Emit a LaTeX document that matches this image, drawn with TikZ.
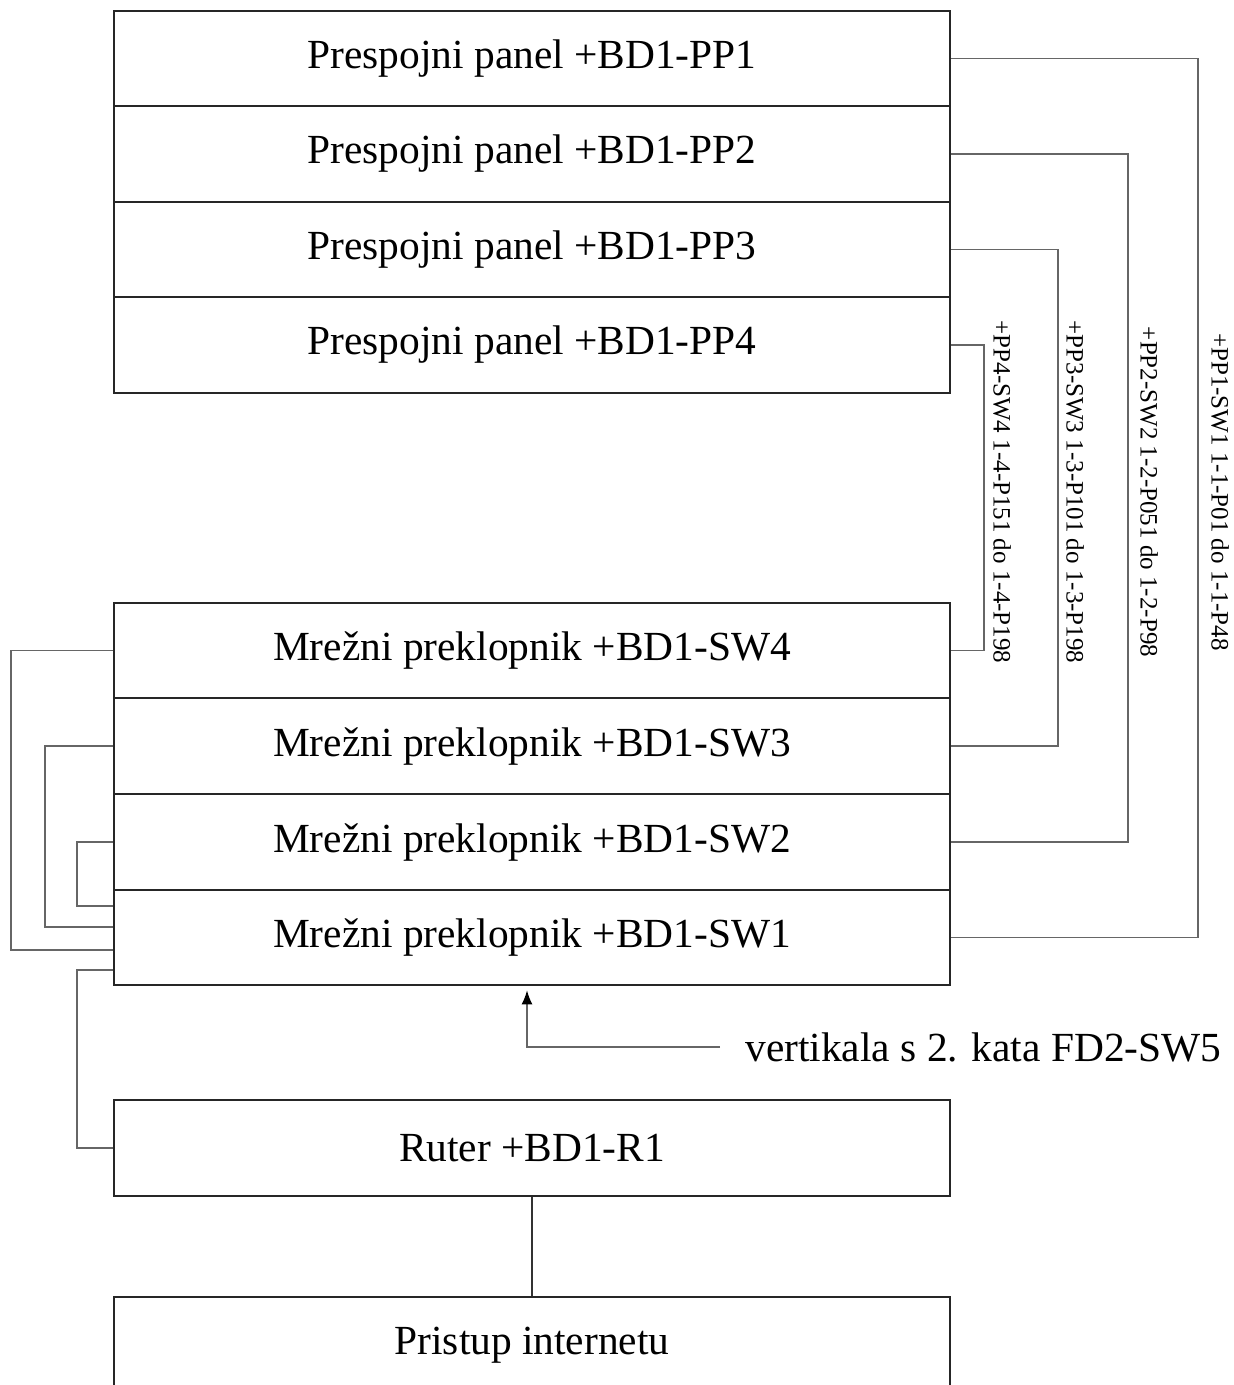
\documentclass[tikz,border=0pt]{standalone}
\usepackage{fontspec}
\setmainfont{Liberation Serif}
\usetikzlibrary{arrows.meta,calc}
\begin{document}
\begin{tikzpicture}[x=0.5pt,y=-0.5pt,
  box/.style={draw=black!85, line width=1pt, minimum width=418pt, minimum height=47.8pt, inner sep=0pt, font=\fontsize{20.7pt}{24pt}\selectfont},
  conn/.style={draw=black!60, line width=0.75pt},
  lbl/.style={rotate=-90, inner sep=0pt, font=\fontsize{12.5pt}{14pt}\selectfont}]
\useasboundingbox (0,0) rectangle (1233,1385);
\clip (0,0) rectangle (1233,1385);
\node[box] (pp1) at (532,58.5) {Prespojni panel +BD1-PP1};
\node[box] (pp2) at (532,154) {Prespojni panel +BD1-PP2};
\node[box] (pp3) at (532,249.5) {Prespojni panel +BD1-PP3};
\node[box] (pp4) at (532,345) {Prespojni panel +BD1-PP4};
\node[box] (sw4) at (532,650.5) {Mrežni preklopnik +BD1-SW4};
\node[box] (sw3) at (532,746) {Mrežni preklopnik +BD1-SW3};
\node[box] (sw2) at (532,842) {Mrežni preklopnik +BD1-SW2};
\node[box] (sw1) at (532,937.5) {Mrežni preklopnik +BD1-SW1};
\node[box] (rt) at (532,1148) {Ruter +BD1-R1};
\node[box] (ri) at (532,1345) {Pristup internetu};
% right connectors
\draw[conn] (pp1.east) -- ++(247,0) |- (sw1.east);
\draw[conn] (pp2.east) -- ++(177,0) |- (sw2.east);
\draw[conn] (pp3.east) -- ++(107,0) |- (sw3.east);
\draw[conn] (pp4.east) -- ++(33,0) |- (sw4.east);
\node[lbl] (l4) at (1002,492) {+PP4-SW4 1-4-P151 do 1-4-P198};
\node[lbl] (l3) at (1075,492) {+PP3-SW3 1-3-P101 do 1-3-P198};
\node[lbl] (l2) at (1149,492) {+PP2-SW2 1-2-P051 do 1-2-P98};
\node[lbl] (l1) at (1220,492) {+PP1-SW1 1-1-P01 do 1-1-P48};
% left connectors
\draw[conn] (sw4.west) -- ++(-102,0) |- ($(sw1.west)+(0,12.5)$);
\draw[conn] (sw3.west) -- ++(-68,0) |- ($(sw1.west)+(0,-10.5)$);
\draw[conn] (sw2.west) -- ++(-36,0) |- ($(sw1.west)+(0,-31.5)$);
\draw[conn] ($(sw1.west)+(0,32.5)$) -- ++(-36,0) |- (rt.west);
% vertical from 2nd floor
\node[anchor=west, inner xsep=12.5pt, inner ysep=0pt, font=\fontsize{20.7pt}{24pt}\selectfont] (vt) at (720,1047) {vertikala s 2. kata FD2-SW5};
\draw[conn, shorten >=2pt, -{Latex[length=7pt,width=5.5pt,black]}] (vt.west) -| ([xshift=-2.5pt]sw1.south);
% router to internet
\draw[draw=black!80, line width=0.6pt] (rt.south) -- (ri.north);
\end{tikzpicture}
\end{document}
